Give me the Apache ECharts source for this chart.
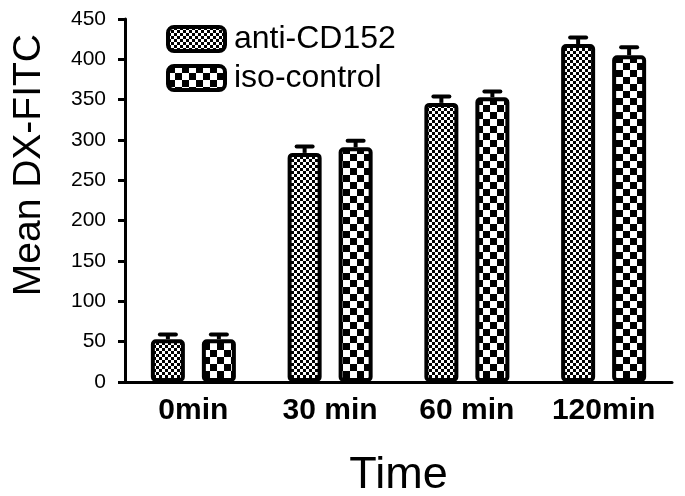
<!DOCTYPE html>
<html>
<head>
<meta charset="utf-8">
<script src="https://cdn.jsdelivr.net/npm/echarts@6/dist/echarts.min.js"></script>
<style>
  html, body { margin: 0; padding: 0; background: #fff; }
  #main { width: 685px; height: 496px; }
</style>
</head>
<body>
<div id="main"></div>
<script>
var categories = ['0min', '30 min', '60 min', '120min'];
var antiValues = [53, 284, 346, 419];
var antiErrors = [6, 8, 8, 8];
var isoValues = [53, 291, 353, 405];
var isoErrors = [6, 8, 7, 10];
var yTicks = [0, 50, 100, 150, 200, 250, 300, 350, 400, 450];

// checkerboard fill, cell = square size in px
function checker(cell) {
    var c = document.createElement('canvas');
    c.width = cell * 2;
    c.height = cell * 2;
    var ctx = c.getContext('2d');
    ctx.fillStyle = '#fff';
    ctx.fillRect(0, 0, cell * 2, cell * 2);
    ctx.fillStyle = '#000';
    ctx.fillRect(0, 0, cell, cell);
    ctx.fillRect(cell, cell, cell, cell);
    return c;
}

var fine = { image: checker(3), repeat: 'repeat' };
var coarse = { image: checker(7), repeat: 'repeat' };

var font = 'Arial, "Liberation Sans", sans-serif';
var barOffset = 25.5;

function errorSeries(values, errors, shift) {
    return {
        type: 'custom',
        silent: true,
        z: 5,
        data: values.map(function (v, i) { return [i, v, v + errors[i]]; }),
        renderItem: function (params, api) {
            var top = api.coord([api.value(0), api.value(2)]);
            var base = api.coord([api.value(0), api.value(1)]);
            var x = top[0] + shift;
            return {
                type: 'group',
                children: [{
                    type: 'line',
                    shape: { x1: x, y1: base[1], x2: x, y2: top[1] },
                    style: { stroke: '#000', lineWidth: 4 }
                }, {
                    type: 'line',
                    shape: { x1: x - 8, y1: top[1], x2: x + 8, y2: top[1] },
                    style: { stroke: '#000', lineWidth: 4, lineCap: 'round' }
                }]
            };
        }
    };
}

var chart = echarts.init(document.getElementById('main'));
chart.setOption({
    backgroundColor: '#fff',
    animation: false,
    textStyle: { fontFamily: font, color: '#000' },
    grid: { left: 125, right: 13, top: 19, bottom: 114, outerBoundsMode: 'none' },
    legend: {
        orient: 'vertical',
        left: 161,
        top: 18,
        itemWidth: 57,
        itemHeight: 24,
        itemGap: 7,
        data: ['anti-CD152', 'iso-control'],
        itemStyle: { borderColor: '#000', borderWidth: 4 },
        textStyle: { fontSize: 32, color: '#000', fontFamily: font, padding: [0, 0, 0, 4] }
    },
    graphic: [{
        type: 'text',
        left: 10,
        top: 34,
        rotation: Math.PI / 2,
        style: {
            text: 'Mean DX-FITC',
            font: '39px ' + font,
            fill: '#000'
        }
    }],
    xAxis: {
        type: 'category',
        data: categories,
        name: 'Time',
        nameLocation: 'middle',
        nameGap: 71,
        nameTextStyle: { fontSize: 45, color: '#000', fontFamily: font },
        axisLine: { lineStyle: { color: '#000', width: 3 } },
        axisTick: { alignWithLabel: true, length: 7, lineStyle: { color: '#000', width: 3 } },
        axisLabel: { fontSize: 30, fontWeight: 'bold', color: '#000', margin: 14, fontFamily: font }
    },
    yAxis: {
        type: 'value',
        min: yTicks[0],
        max: yTicks[yTicks.length - 1],
        interval: 50,
        axisLine: { show: true, lineStyle: { color: '#000', width: 3 } },
        axisTick: { show: true, length: 7, lineStyle: { color: '#000', width: 3 } },
        axisLabel: { fontSize: 21, color: '#000', margin: 19, fontFamily: font },
        splitLine: { show: false }
    },
    series: [{
        name: 'anti-CD152',
        type: 'bar',
        barWidth: 34,
        barGap: '50%',
        data: antiValues,
        itemStyle: { color: fine, borderColor: '#000', borderWidth: 4, borderRadius: 3 }
    }, {
        name: 'iso-control',
        type: 'bar',
        barWidth: 34,
        data: isoValues,
        itemStyle: { color: coarse, borderColor: '#000', borderWidth: 4, borderRadius: 3 }
    },
    errorSeries(antiValues, antiErrors, -barOffset),
    errorSeries(isoValues, isoErrors, barOffset)]
});
</script>
</body>
</html>
